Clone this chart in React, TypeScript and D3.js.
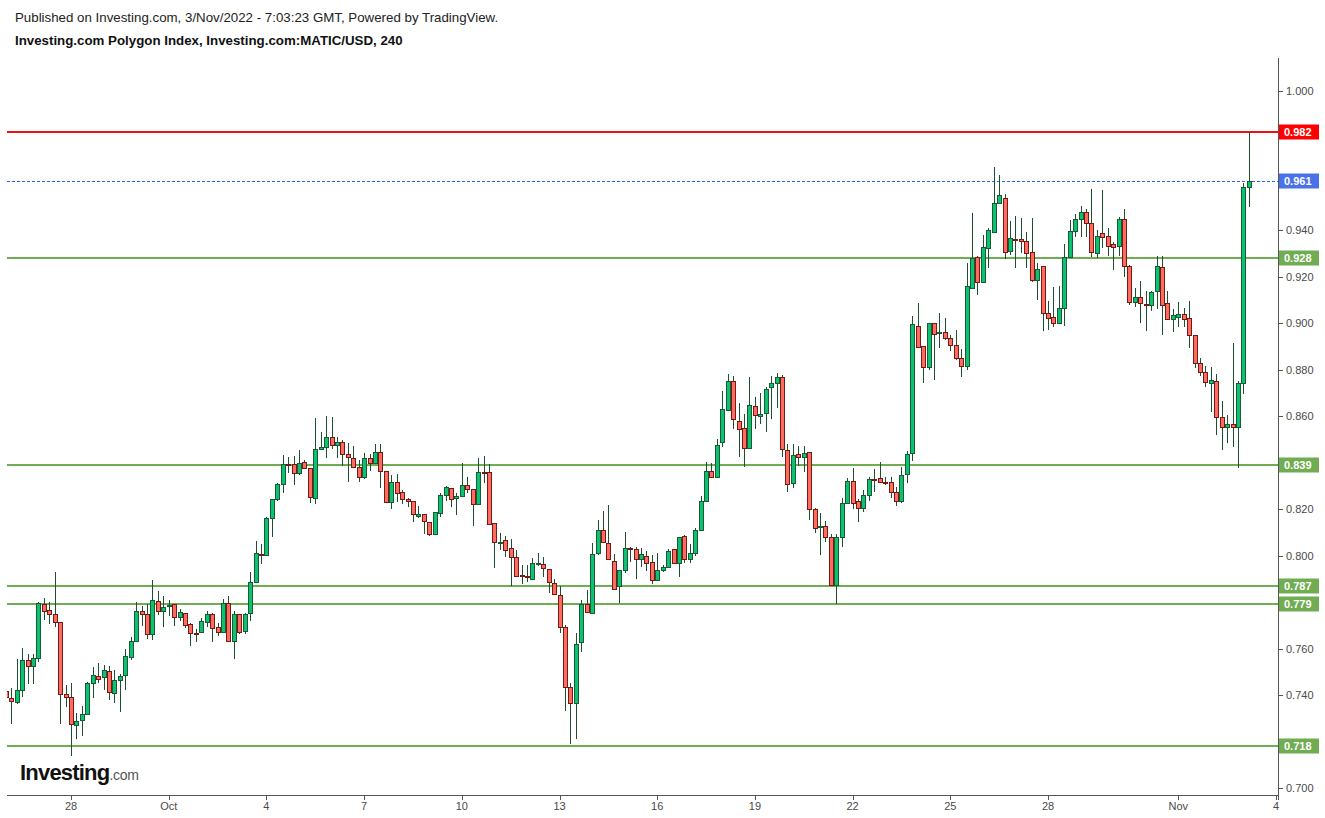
import React from "react";
import * as d3 from "d3";

// 4h candles, first candle Sep 26 2022 00:00 UTC
const firstCandle = "2022-09-26T00:00:00Z";
const candleHours = 4;

const opens = [
  0.7415, 0.7385, 0.7370, 0.7420, 0.7550, 0.7523, 0.7558, 0.7792, 0.7764, 0.7747, 0.7713, 0.7403,
  0.7390, 0.7270, 0.7291, 0.7320, 0.7450, 0.7480, 0.7476, 0.7502, 0.7407, 0.7463, 0.7485, 0.7562,
  0.7632, 0.7760, 0.7747, 0.7661, 0.7803, 0.7760, 0.7785, 0.7791, 0.7735, 0.7752, 0.7705, 0.7666,
  0.7670, 0.7714, 0.7748, 0.7692, 0.7670, 0.7795, 0.7631, 0.7748, 0.7677, 0.7752, 0.7885, 0.8008,
  0.8002, 0.8161, 0.8245, 0.8307, 0.8393, 0.8393, 0.8355, 0.8402, 0.8376, 0.8250, 0.8459, 0.8469,
  0.8512, 0.8476, 0.8490, 0.8436, 0.8418, 0.8380, 0.8337, 0.8418, 0.8397, 0.8444, 0.8365, 0.8229,
  0.8315, 0.8272, 0.8242, 0.8236, 0.8170, 0.8177, 0.8143, 0.8091, 0.8182, 0.8261, 0.8289, 0.8246,
  0.8256, 0.8304, 0.8285, 0.8221, 0.8362, 0.8359, 0.8139, 0.8057, 0.8068, 0.8032, 0.7993, 0.7916,
  0.7913, 0.7898, 0.7964, 0.7963, 0.7941, 0.7881, 0.7829, 0.7694, 0.7433, 0.7364, 0.7627, 0.7791,
  0.7752, 0.8010, 0.8111, 0.8053, 0.7977, 0.7867, 0.7937, 0.8031, 0.8028, 0.7984, 0.7999, 0.7971,
  0.7894, 0.7937, 0.7949, 0.8027, 0.7967, 0.8083, 0.7984, 0.8013, 0.8110, 0.8234, 0.8363, 0.8337,
  0.8488, 0.8627, 0.8750, 0.8578, 0.8548, 0.8462, 0.8643, 0.8600, 0.8612, 0.8724, 0.8744, 0.8767,
  0.8455, 0.8314, 0.8436, 0.8423, 0.8444, 0.8199, 0.8124, 0.8126, 0.8078, 0.7872, 0.8078, 0.8225,
  0.8319, 0.8233, 0.8207, 0.8259, 0.8328, 0.8332, 0.8317, 0.8315, 0.8272, 0.8236, 0.8350, 0.8440,
  0.8987, 0.8902, 0.8810, 0.9000, 0.8961, 0.8964, 0.8935, 0.8905, 0.8850, 0.8815, 0.9153, 0.9287,
  0.9176, 0.9323, 0.9394, 0.9516, 0.9538, 0.9311, 0.9363, 0.9363, 0.9353, 0.9306, 0.9185, 0.9247,
  0.9043, 0.9026, 0.9000, 0.9064, 0.9287, 0.9399, 0.9448, 0.9481, 0.9430, 0.9301, 0.9387, 0.9376,
  0.9340, 0.9334, 0.9447, 0.9248, 0.9093, 0.9114, 0.9085, 0.9077, 0.9139, 0.9244, 0.9086, 0.9017,
  0.9029, 0.9038, 0.9021, 0.8948, 0.8827, 0.8789, 0.8741, 0.8750, 0.8595, 0.8552, 0.8565, 0.8552,
  0.8741, 0.9588,
];
const highs = [
  0.7430, 0.7429, 0.7555, 0.7602, 0.7575, 0.7575, 0.7799, 0.7817, 0.7799, 0.7929, 0.7715, 0.7443,
  0.7450, 0.7321, 0.7354, 0.7457, 0.7519, 0.7536, 0.7528, 0.7523, 0.7506, 0.7489, 0.7596, 0.7648,
  0.7799, 0.7782, 0.7792, 0.7895, 0.7848, 0.7824, 0.7809, 0.7791, 0.7769, 0.7752, 0.7712, 0.7683,
  0.7730, 0.7762, 0.7752, 0.7709, 0.7814, 0.7824, 0.7762, 0.7750, 0.7752, 0.7928, 0.8062, 0.8049,
  0.8168, 0.8245, 0.8311, 0.8433, 0.8426, 0.8429, 0.8455, 0.8412, 0.8378, 0.8591, 0.8530, 0.8601,
  0.8596, 0.8512, 0.8497, 0.8483, 0.8471, 0.8411, 0.8440, 0.8436, 0.8480, 0.8480, 0.8366, 0.8347,
  0.8351, 0.8282, 0.8248, 0.8237, 0.8213, 0.8178, 0.8144, 0.8186, 0.8268, 0.8299, 0.8290, 0.8268,
  0.8397, 0.8339, 0.8286, 0.8419, 0.8429, 0.8395, 0.8140, 0.8096, 0.8085, 0.8072, 0.8024, 0.7960,
  0.7960, 0.7989, 0.8010, 0.7993, 0.7942, 0.7898, 0.7869, 0.7702, 0.7450, 0.7666, 0.7809, 0.7852,
  0.8056, 0.8154, 0.8192, 0.8218, 0.8006, 0.7940, 0.8101, 0.8038, 0.8036, 0.8031, 0.8020, 0.8001,
  0.8013, 0.7959, 0.8028, 0.8028, 0.8080, 0.8089, 0.8050, 0.8117, 0.8257, 0.8403, 0.8397, 0.8502,
  0.8709, 0.8782, 0.8773, 0.8658, 0.8610, 0.8767, 0.8681, 0.8698, 0.8727, 0.8773, 0.8787, 0.8777,
  0.8480, 0.8480, 0.8471, 0.8471, 0.8445, 0.8207, 0.8184, 0.8149, 0.8093, 0.8093, 0.8246, 0.8332,
  0.8375, 0.8243, 0.8282, 0.8337, 0.8372, 0.8401, 0.8339, 0.8337, 0.8296, 0.8380, 0.8450, 0.9031,
  0.9086, 0.8903, 0.9001, 0.9001, 0.9043, 0.9021, 0.8950, 0.8971, 0.8890, 0.9258, 0.9473, 0.9288,
  0.9380, 0.9409, 0.9671, 0.9638, 0.9557, 0.9440, 0.9462, 0.9452, 0.9394, 0.9452, 0.9258, 0.9248,
  0.9096, 0.9158, 0.9161, 0.9341, 0.9445, 0.9471, 0.9505, 0.9491, 0.9577, 0.9402, 0.9574, 0.9411,
  0.9351, 0.9459, 0.9492, 0.9249, 0.9150, 0.9182, 0.9139, 0.9137, 0.9290, 0.9290, 0.9139, 0.9061,
  0.9092, 0.9067, 0.9096, 0.8949, 0.8850, 0.8817, 0.8810, 0.8782, 0.8665, 0.8605, 0.8914, 0.8750,
  0.9602, 0.9825,
];
const lows = [
  0.7370, 0.7274, 0.7360, 0.7390, 0.7449, 0.7449, 0.7540, 0.7723, 0.7704, 0.7694, 0.7276, 0.7350,
  0.7139, 0.7212, 0.7225, 0.7317, 0.7388, 0.7450, 0.7423, 0.7380, 0.7367, 0.7328, 0.7423, 0.7549,
  0.7629, 0.7695, 0.7642, 0.7638, 0.7746, 0.7694, 0.7738, 0.7699, 0.7720, 0.7687, 0.7613, 0.7626,
  0.7668, 0.7692, 0.7630, 0.7656, 0.7668, 0.7631, 0.7557, 0.7664, 0.7661, 0.7720, 0.7884, 0.7963,
  0.8000, 0.8082, 0.8233, 0.8268, 0.8355, 0.8303, 0.8347, 0.8374, 0.8228, 0.8222, 0.8457, 0.8418,
  0.8461, 0.8418, 0.8385, 0.8318, 0.8380, 0.8318, 0.8328, 0.8365, 0.8395, 0.8289, 0.8229, 0.8199,
  0.8229, 0.8220, 0.8210, 0.8143, 0.8160, 0.8091, 0.8085, 0.8090, 0.8167, 0.8236, 0.8210, 0.8174,
  0.8255, 0.8271, 0.8129, 0.8220, 0.8314, 0.8135, 0.7948, 0.8024, 0.7993, 0.7867, 0.7910, 0.7877,
  0.7888, 0.7897, 0.7956, 0.7907, 0.7841, 0.7833, 0.7666, 0.7333, 0.7188, 0.7209, 0.7587, 0.7755,
  0.7751, 0.8003, 0.8056, 0.7983, 0.7854, 0.7795, 0.7927, 0.7974, 0.7901, 0.7949, 0.7934, 0.7878,
  0.7891, 0.7928, 0.7948, 0.7964, 0.7909, 0.7967, 0.7970, 0.8000, 0.8107, 0.8233, 0.8336, 0.8336,
  0.8466, 0.8624, 0.8545, 0.8423, 0.8380, 0.8461, 0.8546, 0.8565, 0.8534, 0.8589, 0.8634, 0.8426,
  0.8272, 0.8289, 0.8387, 0.8358, 0.8153, 0.8098, 0.8002, 0.8057, 0.7874, 0.7790, 0.8038, 0.8224,
  0.8199, 0.8146, 0.8189, 0.8236, 0.8275, 0.8317, 0.8304, 0.8250, 0.8215, 0.8225, 0.8314, 0.8408,
  0.8895, 0.8741, 0.8799, 0.8758, 0.8892, 0.8928, 0.8880, 0.8840, 0.8770, 0.8800, 0.9151, 0.9122,
  0.9175, 0.9240, 0.9393, 0.9515, 0.9277, 0.9294, 0.9237, 0.9301, 0.9237, 0.9176, 0.9100, 0.8968,
  0.8971, 0.8986, 0.8999, 0.8987, 0.9286, 0.9373, 0.9370, 0.9373, 0.9284, 0.9280, 0.9325, 0.9291,
  0.9229, 0.9291, 0.9201, 0.9079, 0.9071, 0.9000, 0.8968, 0.9054, 0.9060, 0.8948, 0.9016, 0.8964,
  0.8982, 0.8985, 0.8895, 0.8806, 0.8773, 0.8727, 0.8619, 0.8519, 0.8454, 0.8486, 0.8469, 0.8378,
  0.8695, 0.9502,
];
const closes = [
  0.7390, 0.7374, 0.7420, 0.7550, 0.7523, 0.7558, 0.7794, 0.7763, 0.7747, 0.7713, 0.7403, 0.7390,
  0.7274, 0.7286, 0.7317, 0.7450, 0.7484, 0.7467, 0.7506, 0.7411, 0.7463, 0.7480, 0.7566, 0.7632,
  0.7760, 0.7747, 0.7661, 0.7807, 0.7760, 0.7777, 0.7786, 0.7735, 0.7756, 0.7703, 0.7666, 0.7664,
  0.7717, 0.7749, 0.7687, 0.7670, 0.7795, 0.7631, 0.7748, 0.7673, 0.7748, 0.7885, 0.8010, 0.8006,
  0.8161, 0.8245, 0.8307, 0.8393, 0.8390, 0.8355, 0.8398, 0.8376, 0.8251, 0.8459, 0.8466, 0.8512,
  0.8476, 0.8487, 0.8436, 0.8423, 0.8382, 0.8337, 0.8418, 0.8397, 0.8444, 0.8365, 0.8229, 0.8315,
  0.8268, 0.8243, 0.8236, 0.8177, 0.8177, 0.8147, 0.8091, 0.8186, 0.8261, 0.8294, 0.8245, 0.8256,
  0.8304, 0.8285, 0.8222, 0.8362, 0.8359, 0.8135, 0.8057, 0.8058, 0.8022, 0.7993, 0.7914, 0.7914,
  0.7910, 0.7967, 0.7966, 0.7946, 0.7885, 0.7834, 0.7694, 0.7436, 0.7364, 0.7618, 0.7791, 0.7756,
  0.8006, 0.8111, 0.8057, 0.7984, 0.7855, 0.7937, 0.8032, 0.8028, 0.7984, 0.8005, 0.7967, 0.7894,
  0.7937, 0.7949, 0.8018, 0.7967, 0.8079, 0.7984, 0.8010, 0.8109, 0.8234, 0.8363, 0.8337, 0.8475,
  0.8630, 0.8750, 0.8587, 0.8546, 0.8462, 0.8647, 0.8604, 0.8610, 0.8716, 0.8744, 0.8767, 0.8457,
  0.8307, 0.8431, 0.8423, 0.8440, 0.8199, 0.8117, 0.8126, 0.8081, 0.7874, 0.8078, 0.8225, 0.8322,
  0.8225, 0.8207, 0.8259, 0.8328, 0.8326, 0.8318, 0.8314, 0.8275, 0.8236, 0.8347, 0.8437, 0.8997,
  0.8896, 0.8810, 0.9000, 0.8956, 0.8962, 0.8935, 0.8905, 0.8850, 0.8815, 0.9161, 0.9280, 0.9179,
  0.9327, 0.9402, 0.9516, 0.9552, 0.9306, 0.9366, 0.9360, 0.9353, 0.9301, 0.9185, 0.9232, 0.9043,
  0.9021, 0.9000, 0.9064, 0.9287, 0.9399, 0.9448, 0.9481, 0.9430, 0.9306, 0.9377, 0.9370, 0.9334,
  0.9330, 0.9447, 0.9248, 0.9093, 0.9112, 0.9086, 0.9083, 0.9136, 0.9248, 0.9077, 0.9017, 0.9036,
  0.9040, 0.9017, 0.8948, 0.8827, 0.8789, 0.8746, 0.8754, 0.8595, 0.8552, 0.8565, 0.8552, 0.8741,
  0.9588, 0.9612,
];

const priceTicks = [0.7, 0.72, 0.74, 0.76, 0.78, 0.8, 0.82, 0.84, 0.86, 0.88, 0.9, 0.92, 0.94, 0.96, 0.98, 1.0];
const dateTicks = [
  "2022-09-28", "2022-10-01", "2022-10-04", "2022-10-07", "2022-10-10", "2022-10-13", "2022-10-16",
  "2022-10-19", "2022-10-22", "2022-10-25", "2022-10-28", "2022-11-01", "2022-11-04",
];
const dateTickLabels = ["28", "Oct", "4", "7", "10", "13", "16", "19", "22", "25", "28", "Nov", "4"];

const supportLevels = [0.928, 0.839, 0.787, 0.779, 0.718];
const highLevel = 0.9824;
const lastPrice = 0.9612;

const FONT = "'Liberation Sans', Arial, Helvetica, sans-serif";
const UP_FILL = "#0ac26f";
const UP_LINE = "#1b5a35";
const DN_FILL = "#ff6b5e";
const DN_LINE = "#741a14";
const WICK = "#1d4f30";
const LEVEL_GREEN = "#6fac52";

export default function App() {
  const W = 1325;
  const H = 818;
  const plotLeft = 7;
  const plotRight = 1278;
  const plotTop = 58;
  const plotBottom = 795;

  const x = d3
    .scaleUtc()
    .domain([new Date("2022-09-28T00:00:00Z"), new Date("2022-11-04T00:00:00Z")])
    .range([71, 1276]);
  const y = d3.scaleLinear().domain([0.7, 1.0]).range([787.9, 91]);

  const t0 = new Date(firstCandle).getTime();
  const candles = opens.map((o, i) => ({
    t: new Date(t0 + i * candleHours * 3600 * 1000),
    o,
    h: highs[i],
    l: lows[i],
    c: closes[i],
  }));

  const crisp = (v: number) => Math.round(v) + 0.5;
  const labelYs = [...supportLevels, highLevel, lastPrice].map((v) => y(v));
  const visibleTicks = priceTicks.filter((v) => labelYs.every((ly) => Math.abs(ly - y(v)) > 10));

  return (
    <svg
      width={W}
      height={H}
      style={{ position: "absolute", left: 0, top: 0, background: "#fff" }}
      fontFamily={FONT}
    >
      <rect x={0} y={0} width={W} height={H} fill="#fff" />
      <defs>
        <clipPath id="plot">
          <rect x={plotLeft} y={plotTop} width={plotRight - plotLeft} height={plotBottom - plotTop} />
        </clipPath>
      </defs>

      <text x={15} y={22} fontSize={13.3} fill="#222">
        Published on Investing.com, 3/Nov/2022 - 7:03:23 GMT, Powered by TradingView.
      </text>
      <text x={15} y={45} fontSize={13.3} fontWeight="bold" fill="#111">
        Investing.com Polygon Index, Investing.com:MATIC/USD, 240
      </text>

      {/* level lines */}
      <g clipPath="url(#plot)">
        {supportLevels.map((v) => (
          <line
            key={v}
            x1={plotLeft}
            x2={plotRight}
            y1={Math.round(y(v))}
            y2={Math.round(y(v))}
            stroke={LEVEL_GREEN}
            strokeWidth={2}
          />
        ))}
        <line
          x1={plotLeft}
          x2={plotRight}
          y1={Math.round(y(highLevel))}
          y2={Math.round(y(highLevel))}
          stroke="#f01010"
          strokeWidth={2}
        />
        <line
          x1={plotLeft}
          x2={plotRight}
          y1={crisp(y(lastPrice))}
          y2={crisp(y(lastPrice))}
          stroke="#2962ff"
          strokeWidth={1}
          strokeDasharray="3 2"
        />

        {/* candles */}
        {candles.map((d, i) => {
          const px = Math.round(x(d.t));
          const up = d.c >= d.o;
          const top = y(Math.max(d.o, d.c));
          const bot = y(Math.min(d.o, d.c));
          const yt = Math.round(top) + 0.5;
          let hgt = Math.round(bot) - Math.round(top);
          if (hgt < 1) hgt = 1;
          return (
            <g key={i}>
              <line
                x1={px + 0.5}
                x2={px + 0.5}
                y1={Math.round(y(d.h))}
                y2={Math.round(y(d.l))}
                stroke={WICK}
                strokeWidth={1}
              />
              <rect
                x={px - 1.5}
                y={yt}
                width={4}
                height={hgt}
                fill={up ? UP_FILL : DN_FILL}
                stroke={up ? UP_LINE : DN_LINE}
                strokeWidth={1}
              />
            </g>
          );
        })}
      </g>

      {/* axes */}
      <line x1={plotRight + 0.5} x2={plotRight + 0.5} y1={plotTop} y2={plotBottom + 5} stroke="#555" />
      <line x1={plotLeft} x2={plotRight} y1={plotBottom + 0.5} y2={plotBottom + 0.5} stroke="#555" />

      {priceTicks.map((v) => (
        <line key={"t" + v} x1={plotRight} x2={plotRight + 5} y1={crisp(y(v))} y2={crisp(y(v))} stroke="#555" />
      ))}
      {visibleTicks.map((v) => (
        <text key={"tl" + v} x={plotRight + 8} y={y(v) + 4} fontSize={11} fill="#4a4a4a">
          {v.toFixed(3)}
        </text>
      ))}

      {dateTicks.map((ds, i) => {
        const px = x(new Date(ds + "T00:00:00Z"));
        return (
          <g key={ds}>
            <line x1={crisp(px)} x2={crisp(px)} y1={plotBottom} y2={plotBottom + 5} stroke="#555" />
            <text x={px} y={810} fontSize={11} fill="#4a4a4a" textAnchor="middle">
              {dateTickLabels[i]}
            </text>
          </g>
        );
      })}

      {/* price labels on axis */}
      {supportLevels.map((v) => (
        <g key={"l" + v}>
          <rect x={plotRight + 1} y={Math.round(y(v)) - 7.5} width={40} height={15} fill={LEVEL_GREEN} />
          <text x={plotRight + 6} y={Math.round(y(v)) + 4} fontSize={11} fontWeight="bold" fill="#fff">
            {v.toFixed(3)}
          </text>
        </g>
      ))}
      <rect x={plotRight + 1} y={Math.round(y(highLevel)) - 7.5} width={40} height={15} fill="#f00" />
      <text x={plotRight + 6} y={Math.round(y(highLevel)) + 4} fontSize={11} fontWeight="bold" fill="#fff">
        {highLevel.toFixed(3)}
      </text>
      <rect x={plotRight + 1} y={Math.round(y(lastPrice)) - 7.5} width={40} height={15} fill="#4a72e8" />
      <text x={plotRight + 6} y={Math.round(y(lastPrice)) + 4} fontSize={11} fontWeight="bold" fill="#fff">
        {lastPrice.toFixed(3)}
      </text>

      {/* logo */}
      <text x={20} y={780} fontSize={22} fontWeight="bold" fill="#111" letterSpacing={-0.8}>
        Investing
        <tspan fontSize={14} fontWeight="normal" fill="#555" letterSpacing={-0.3}>
          .com
        </tspan>
      </text>
    </svg>
  );
}
